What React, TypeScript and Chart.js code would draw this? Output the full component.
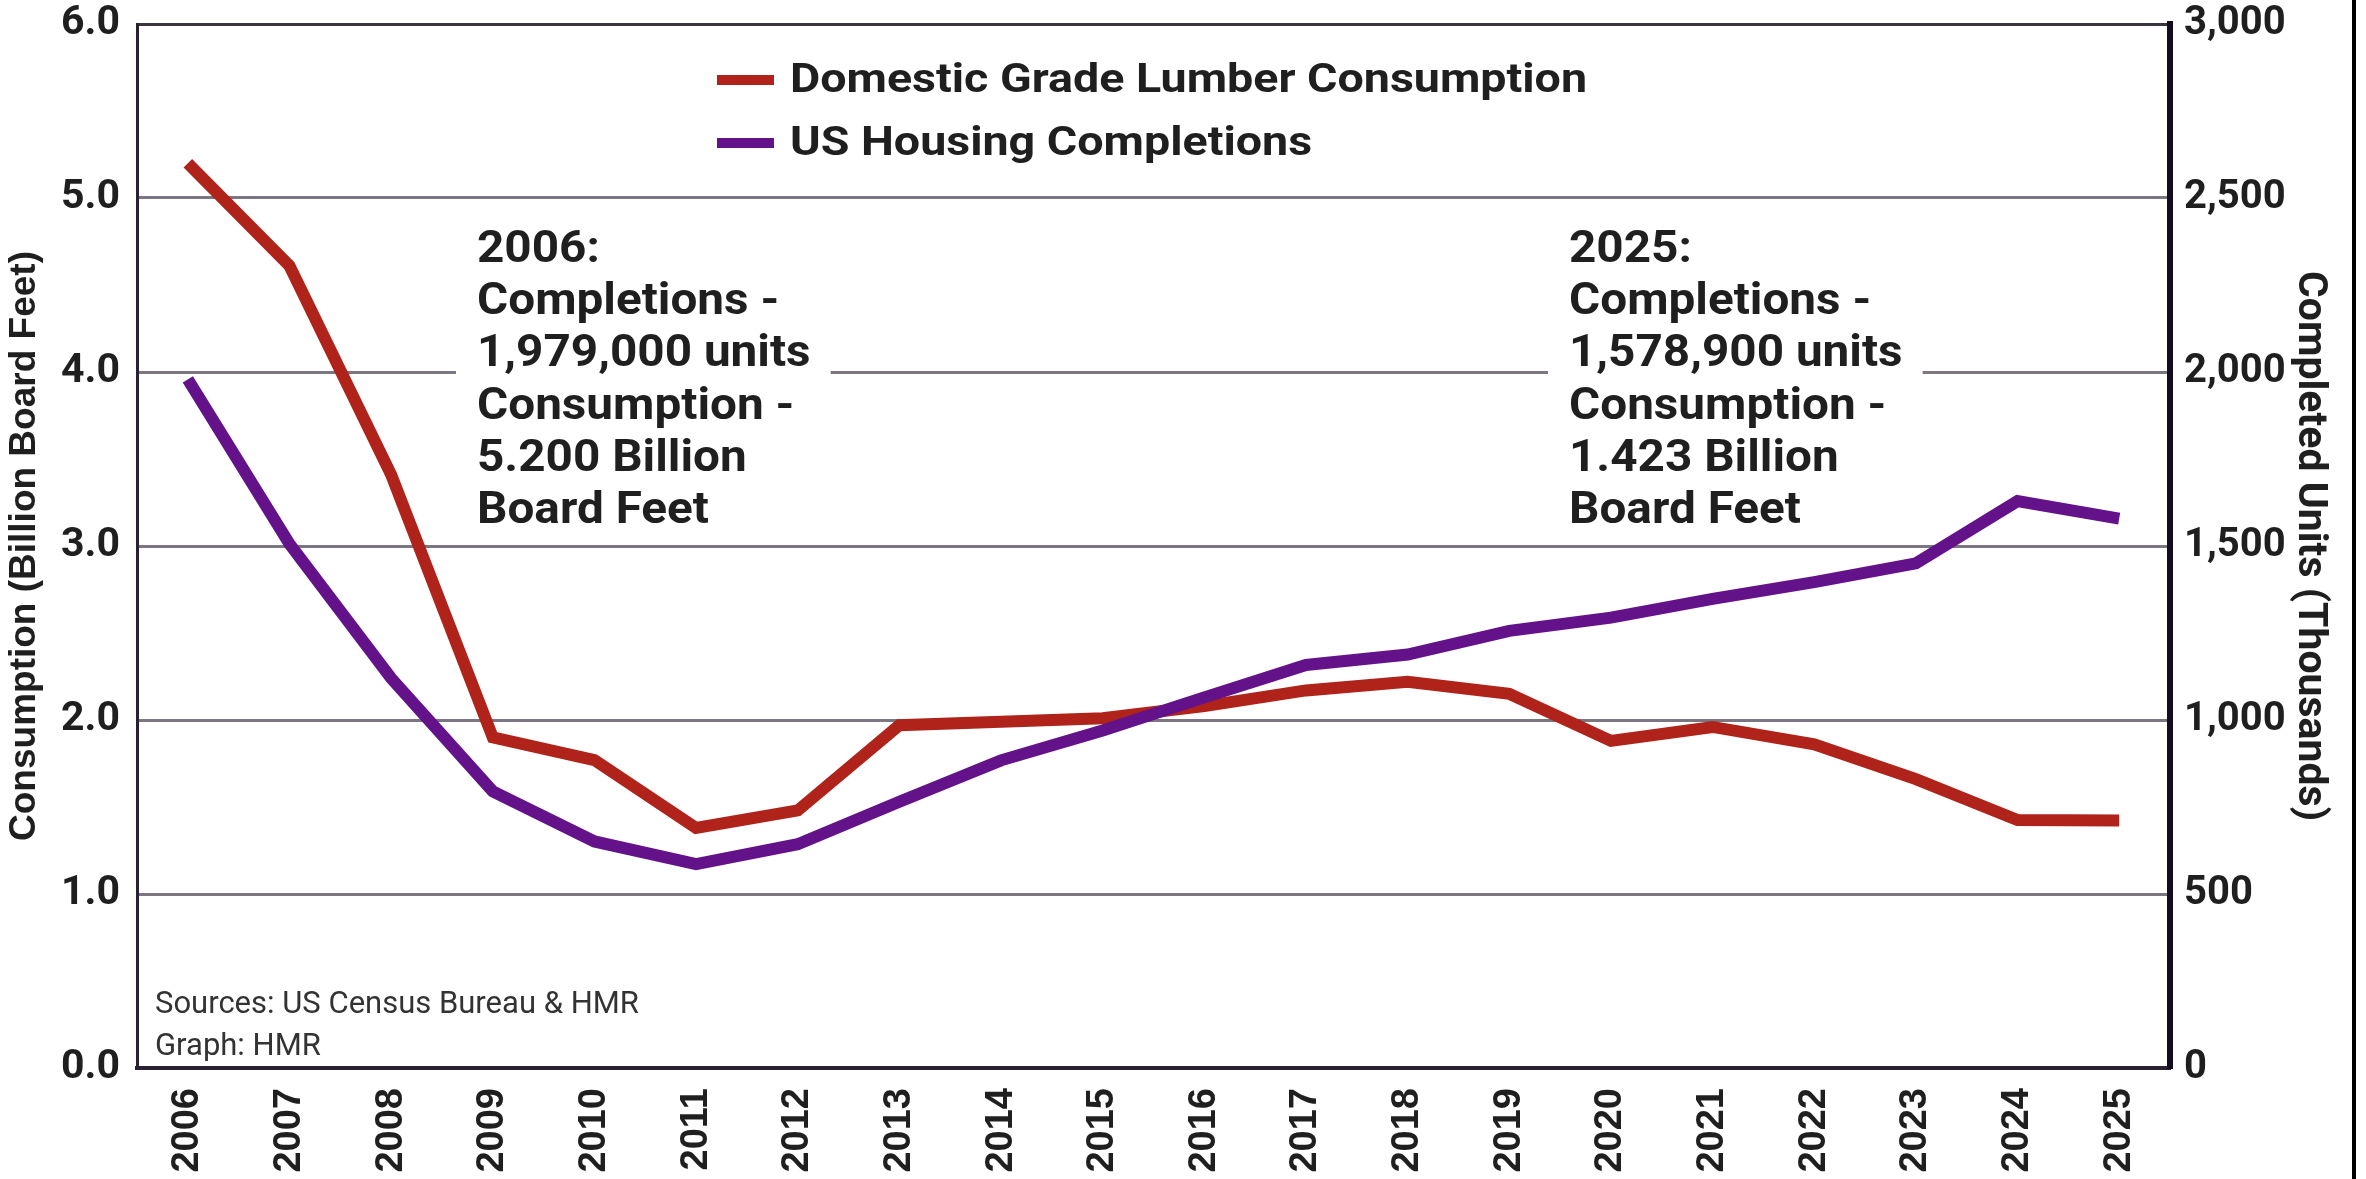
import React, { useEffect, useRef } from "react";
import { Chart, registerables } from "chart.js";

Chart.register(...registerables);

// ---------- data ----------
const YEARS = ["2006","2007","2008","2009","2010","2011","2012","2013","2014","2015","2016","2017","2018","2019","2020","2021","2022","2023","2024","2025"];
const LUMBER_CONSUMPTION = [5.2, 4.61, 3.41, 1.9, 1.77, 1.38, 1.48, 1.97, 1.99, 2.01, 2.08, 2.17, 2.22, 2.15, 1.88, 1.96, 1.86, 1.66, 1.425, 1.423];
const HOUSING_COMPLETIONS = [1979, 1506, 1120, 795, 651, 586, 643, 765, 884, 970, 1065, 1158, 1188, 1256, 1294, 1348, 1396, 1450, 1629, 1578.9];
const SERIES_LABELS = ["Domestic Grade Lumber Consumption", "US Housing Completions"];
const LEFT_TICKS = [0, 1, 2, 3, 4, 5, 6];
const RIGHT_TICKS = [0, 500, 1000, 1500, 2000, 2500, 3000];
const LEFT_TITLE = "Consumption (Billion Board Feet)";
const RIGHT_TITLE = "Completed Units (Thousands)";
const NOTE_2006 = ["2006:", "Completions -", "1,979,000 units", "Consumption -", "5.200 Billion", "Board Feet"];
const NOTE_2025 = ["2025:", "Completions -", "1,578,900 units", "Consumption -", "1.423 Billion", "Board Feet"];
const SOURCE_LINES = ["Sources: US Census Bureau & HMR", "Graph: HMR"];

const RED = "#b0231a";
const PURPLE = "#63128a";
const GRID = "#7b7682";
const DARK = "#2a2233";
const TEXT = "#1f1f1f";

const W = 2366;
const H = 1179;

const decorPlugin = {
  id: "decor",
  beforeDatasetsDraw(chart: any) {
    const ctx = chart.ctx;
    ctx.save();
    const notes = [
      { lines: NOTE_2006, x: 477 },
      { lines: NOTE_2025, x: 1569 },
    ];
    const sx = 1.06;
    ctx.font = "bold 45px Roboto";
    notes.forEach((n) => {
      let maxW = 0;
      n.lines.forEach((l) => { maxW = Math.max(maxW, ctx.measureText(l).width * sx); });
      ctx.fillStyle = "#ffffff";
      ctx.fillRect(n.x - 21, 218, maxW + 41, 318);
      ctx.fillStyle = TEXT;
      ctx.textAlign = "left";
      ctx.textBaseline = "alphabetic";
      n.lines.forEach((l, i) => {
        ctx.save();
        ctx.translate(n.x, 262 + i * 52.2);
        ctx.scale(sx, 1);
        ctx.fillText(l, 0, 0);
        ctx.restore();
      });
    });
    ctx.font = "31px Roboto";
    ctx.fillStyle = "#333333";
    SOURCE_LINES.forEach((l, i) => ctx.fillText(l, 155, 1013 + i * 42));
    ctx.restore();
  },
  afterDraw(chart: any) {
    const ctx = chart.ctx;
    ctx.save();
    const ds = chart.data.datasets;
    ctx.font = "bold 40px Roboto";
    ctx.textAlign = "left";
    ctx.textBaseline = "alphabetic";
    const firstW = ctx.measureText(ds[0].label).width;
    const sx = 797 / firstW;
    const rows = [{ c: 80, b: 92 }, { c: 143, b: 155 }];
    ds.forEach((d: any, i: number) => {
      ctx.fillStyle = d.borderColor;
      ctx.fillRect(717, rows[i].c - 5, 57, 10);
      ctx.fillStyle = TEXT;
      ctx.save();
      ctx.translate(790, rows[i].b);
      ctx.scale(sx, 1);
      ctx.fillText(d.label, 0, 0);
      ctx.restore();
    });
    ctx.fillStyle = "#000000";
    ctx.fillRect(2352, 0, 4, H);
    ctx.restore();
  },
};

export default function App() {
  const ref = useRef<HTMLCanvasElement | null>(null);
  useEffect(() => {
    if (!ref.current) return;
    const chart = new Chart(ref.current, {
      type: "line",
      data: {
        labels: YEARS,
        datasets: [
          {
            label: SERIES_LABELS[0],
            data: LUMBER_CONSUMPTION,
            borderColor: RED,
            backgroundColor: RED,
            borderWidth: 12,
            pointRadius: 0,
            tension: 0,
            borderJoinStyle: "miter",
            borderCapStyle: "butt",
            yAxisID: "y",
            order: 2,
          },
          {
            label: SERIES_LABELS[1],
            data: HOUSING_COMPLETIONS,
            borderColor: PURPLE,
            backgroundColor: PURPLE,
            borderWidth: 12,
            pointRadius: 0,
            tension: 0,
            borderJoinStyle: "miter",
            borderCapStyle: "butt",
            yAxisID: "y1",
            order: 1,
          },
        ],
      },
      options: {
        animation: false,
        responsive: false,
        maintainAspectRatio: false,
        layout: { padding: { top: 24, left: 0, right: 0, bottom: 0 } },
        plugins: { legend: { display: false }, tooltip: { enabled: false } },
        scales: {
          x: {
            type: "category",
            offset: true,
            grid: { display: false, drawTicks: false },
            border: { display: true, color: DARK, width: 4 },
            ticks: {
              autoSkip: false,
              maxRotation: 90,
              minRotation: 90,
              padding: 20,
              color: TEXT,
              font: { family: "'Liberation Sans', Arial", weight: "bold", size: 38, lineHeight: 1 },
            },
            afterFit: (s: any) => { s.height = H - 1068; },
          },
          y: {
            position: "left",
            min: LEFT_TICKS[0],
            max: LEFT_TICKS[LEFT_TICKS.length - 1],
            afterBuildTicks: (s: any) => { s.ticks = LEFT_TICKS.map((v) => ({ value: v })); },
            grid: {
              drawTicks: false,
              lineWidth: 3,
              color: (c: any) => (c.tick && c.tick.value === 6 ? "#3a3440" : GRID),
            },
            border: { display: true, color: DARK, width: 3 },
            ticks: {
              padding: 17,
              color: TEXT,
              font: { family: "Roboto", weight: "bold", size: 41, lineHeight: 1 },
              callback: (v: any) => Number(v).toFixed(1),
            },
            title: {
              display: true,
              text: LEFT_TITLE,
              color: TEXT,
              font: { family: "'Liberation Sans', Arial", weight: "bold", size: 37 },
              padding: { top: 3, bottom: 0 },
            },
            afterFit: (s: any) => { s.width = 137; s.paddingTop = 0; s.paddingBottom = 0; },
          },
          y1: {
            position: "right",
            min: RIGHT_TICKS[0],
            max: RIGHT_TICKS[RIGHT_TICKS.length - 1],
            afterBuildTicks: (s: any) => { s.ticks = RIGHT_TICKS.map((v) => ({ value: v })); },
            grid: { display: false, drawTicks: false },
            border: { display: true, color: "#150c1d", width: 6 },
            ticks: {
              padding: 14,
              color: TEXT,
              font: { family: "Roboto", weight: "bold", size: 40, lineHeight: 1 },
              callback: (v: any) => Number(v).toLocaleString("en-US"),
            },
            title: {
              display: true,
              text: RIGHT_TITLE,
              color: TEXT,
              font: { family: "Roboto", weight: "bold", size: 41 },
              padding: { top: 32, bottom: 0 },
            },
            afterFit: (s: any) => { s.width = W - 2170; s.paddingTop = 0; s.paddingBottom = 0; },
          },
        },
      },
      plugins: [decorPlugin],
    });
    return () => chart.destroy();
  }, []);
  return (
    <div style={{ position: "fixed", left: 0, top: 0, width: W, height: H, background: "#ffffff" }}>
      <canvas ref={ref} width={W} height={H} style={{ display: "block", width: W, height: H }} />
    </div>
  );
}
